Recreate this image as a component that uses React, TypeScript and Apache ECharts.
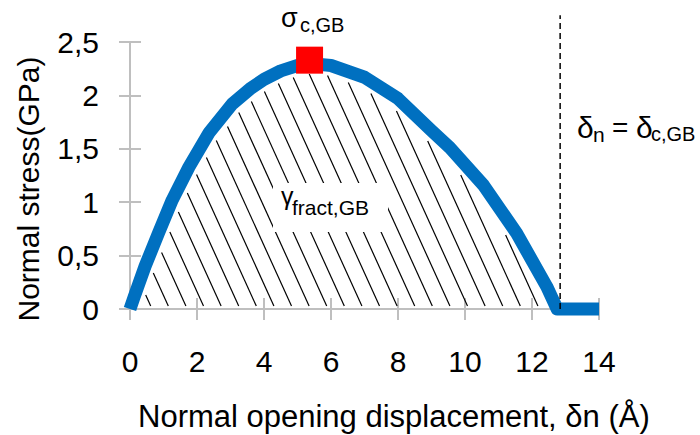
import React, { useEffect, useRef } from "react";
import * as echarts from "echarts";

// Normal opening displacement (Å) and normal stress (GPa)
const openingX = [0, 0.12, 0.45, 0.85, 1.26, 1.76, 2.36, 3.05, 3.58, 4.0, 4.5, 5.0, 5.36, 6.0, 7.0, 8.0, 9.0, 9.55, 10.55, 11.54, 12.44, 12.75, 14];
const stressY = [0, 0.11, 0.4, 0.71, 1.02, 1.33, 1.65, 1.92, 2.06, 2.15, 2.23, 2.28, 2.3, 2.28, 2.17, 1.97, 1.67, 1.51, 1.16, 0.71, 0.21, 0, 0];
// peak (critical stress) marker
const peakPoint = [5.36, 2.33];
// critical opening (dashed line)
const criticalOpening = 12.84;
const dashedTop = 2.75;
const xTicks = { min: 0, max: 14, interval: 2 };
const yTicks = { min: 0, max: 2.5, interval: 0.5 };

const FONT = "'Liberation Sans', Arial, sans-serif";
const AXIS_GRAY = "#bfbfbf";

function hatchRenderItem(params: any, api: any) {
  let zeroIdx = stressY.length - 1;
  for (let i = 1; i < stressY.length; i++) {
    if (stressY[i] === 0) { zeroIdx = i; break; }
  }
  const pts: number[][] = [];
  for (let i = 0; i <= zeroIdx; i++) pts.push(api.coord([openingX[i], stressY[i]]));
  const base = api.coord([0, 0]);
  const top = api.coord([0, yTicks.max])[1];
  const yb = base[1] - 3;
  const xStart = pts[0][0];
  const xEnd = pts[pts.length - 1][0];
  const yc = (px: number) => {
    for (let i = 0; i < pts.length - 1; i++) {
      const a = pts[i], b = pts[i + 1];
      if (px >= a[0] && px <= b[0]) {
        const t = b[0] === a[0] ? 0 : (px - a[0]) / (b[0] - a[0]);
        return a[1] + t * (b[1] - a[1]);
      }
    }
    return base[1];
  };
  const dist = (px: number, py: number) => {
    let m = Infinity;
    for (let i = 0; i < pts.length - 1; i++) {
      const a = pts[i], b = pts[i + 1];
      const dx = b[0] - a[0], dy = b[1] - a[1];
      const l2 = dx * dx + dy * dy;
      let t = l2 ? ((px - a[0]) * dx + (py - a[1]) * dy) / l2 : 0;
      t = Math.max(0, Math.min(1, t));
      const ex = a[0] + t * dx - px, ey = a[1] + t * dy - py;
      m = Math.min(m, Math.sqrt(ex * ex + ey * ey));
    }
    return m;
  };
  const slope = 2.2, spacing = 17.6, gap = 10, minLen = 6;
  const children: any[] = [];
  const push = (r: number[]) => {
    const len = Math.hypot(r[2] - r[0], r[3] - r[1]);
    if (len >= minLen) {
      children.push({
        type: "line",
        shape: { x1: r[0], y1: r[1], x2: r[2], y2: r[3] },
        style: { stroke: "#000", lineWidth: 1.2 },
      });
    }
  };
  for (let k = -10; k < 60; k++) {
    const xe = xStart + 3.1 + k * spacing;
    if (xe > xEnd + 40) break;
    let run: number[] | null = null;
    for (let d = 0; d <= yb - top + 30; d += 0.5) {
      const px = xe - d / slope, py = yb - d;
      const ok = px > xStart && px < xEnd && py > yc(px) && dist(px, py) >= gap;
      if (ok) {
        if (!run) run = [px, py, px, py];
        else { run[2] = px; run[3] = py; }
      } else if (run) { push(run); run = null; }
    }
    if (run) push(run);
  }
  return { type: "group", children };
}

export default function App() {
  const ref = useRef<HTMLDivElement>(null);
  useEffect(() => {
    document.body.style.margin = "0";
    const chart = echarts.init(ref.current!, null, { renderer: "svg" });
    const curve = openingX.map((x, i) => [x, stressY[i]]);
    const labelStyle = { fontSize: 30, color: "#000", fontFamily: FONT };
    const tickLine = { color: AXIS_GRAY, width: 2 };
    const t = (text: string, x: number, y: number, size: number, extra: any = {}) => ({
      type: "text", z: 100, x, y, ...extra,
      style: {
        text, font: `${size}px ${FONT}`, fill: "#000",
        align: extra.align || "left", verticalAlign: "middle",
        textAlign: extra.align || "left", textVerticalAlign: "middle",
      },
    });
    chart.setOption({
      animation: false,
      backgroundColor: "#fff",
      grid: { left: 130, right: 101, top: 42, bottom: 126, containLabel: false },
      xAxis: [
        {
          type: "value", ...xTicks, position: "bottom",
          axisLine: { show: true, onZero: false, lineStyle: tickLine },
          axisTick: { show: true, length: 11, lineStyle: tickLine },
          axisLabel: { ...labelStyle, margin: 37 },
          splitLine: { show: false },
        },
        {
          type: "value", ...xTicks, position: "bottom",
          axisLine: { show: false, onZero: false },
          axisTick: { show: true, inside: true, length: 11, lineStyle: tickLine },
          axisLabel: { show: false },
          splitLine: { show: false },
        },
      ],
      yAxis: [
        {
          type: "value", ...yTicks, position: "left",
          axisLine: { show: true, onZero: false, lineStyle: tickLine },
          axisTick: { show: true, length: 11, lineStyle: tickLine },
          axisLabel: { ...labelStyle, margin: 31, formatter: (v: number) => String(v).replace(".", ",") },
          splitLine: { show: false },
        },
        {
          type: "value", ...yTicks, position: "left",
          axisLine: { show: false, onZero: false },
          axisTick: { show: true, inside: true, length: 11, lineStyle: tickLine },
          axisLabel: { show: false },
          splitLine: { show: false },
        },
      ],
      series: [
        {
          type: "custom",
          name: "fracture energy",
          xAxisIndex: 0, yAxisIndex: 0,
          data: [[0, 0]],
          renderItem: hatchRenderItem,
          z: 1,
          silent: true,
        },
        {
          type: "line",
          name: "traction",
          xAxisIndex: 0, yAxisIndex: 0,
          data: curve,
          smooth: false,
          showSymbol: false,
          symbol: "none",
          clip: false,
          lineStyle: { color: "#0070c0", width: 13, cap: "butt", join: "round" },
          z: 3,
        },
        {
          type: "scatter",
          name: "peak",
          data: [peakPoint],
          symbol: "rect",
          symbolSize: 27,
          itemStyle: { color: "#ff0000", opacity: 1 },
          z: 4,
        },
        {
          type: "line",
          name: "critical opening",
          data: [[criticalOpening, 0], [criticalOpening, dashedTop]],
          symbol: "none",
          clip: false,
          lineStyle: { color: "#000", width: 1.5, type: [6, 4] },
          z: 5,
        },
      ],
      graphic: [
        { type: "rect", z: 50, shape: { x: 273, y: 183, width: 115, height: 49 }, style: { fill: "#fff" } },
        t("γ", 281, 196, 25),
        t("fract,GB", 292, 207, 21),
        t("σ", 281, 18, 27),
        t("c,GB", 300, 25, 20),
        t("δ", 577, 127, 30),
        t("n", 593, 134, 21),
        t("=", 612, 127, 28),
        t("δ", 636, 127, 30),
        t("c,GB", 651, 134, 20),
        t("Normal stress(GPa)", 28, 189, 30, { rotation: Math.PI / 2, align: "center" }),
        t("Normal opening displacement, δn (Å)", 138, 416, 31),
      ],
    });
    return () => chart.dispose();
  }, []);
  return <div ref={ref} style={{ position: "absolute", left: 0, top: 0, width: 700, height: 435 }} />;
}
